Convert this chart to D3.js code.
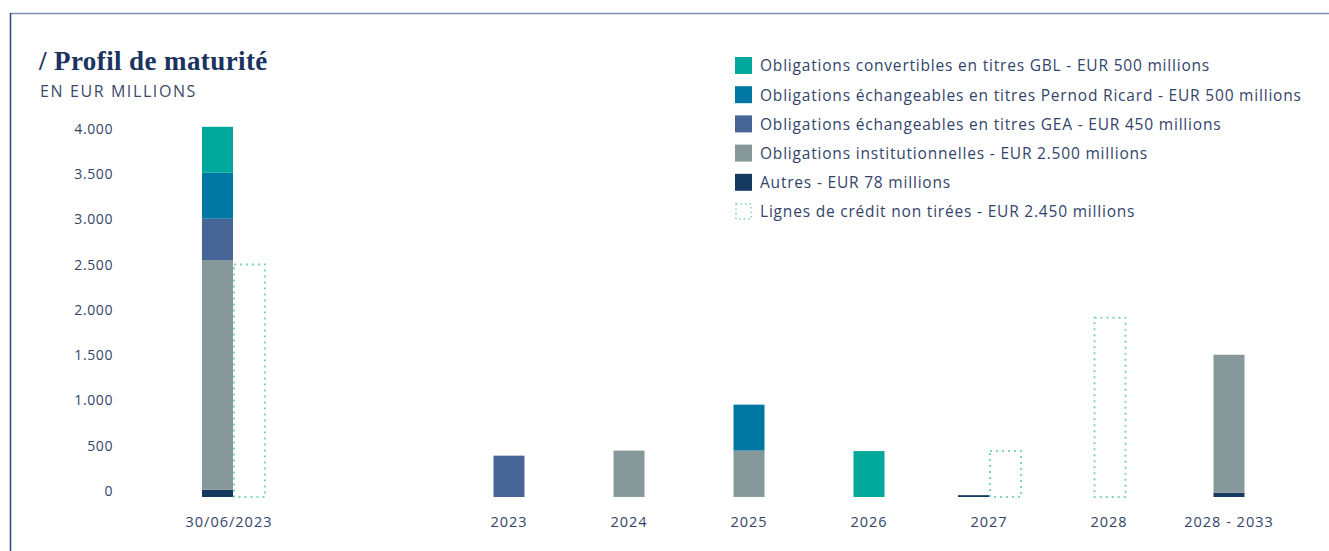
<!DOCTYPE html>
<html>
<head>
<meta charset="utf-8">
<script src="https://cdnjs.cloudflare.com/ajax/libs/d3/7.8.5/d3.min.js"></script>
<style>
  body { margin: 0; background: #fff; }
  svg { display: block; }
  text { font-family: "Open Sans", sans-serif; fill: #33446a; }
</style>
</head>
<body>
<svg id="chart"></svg>
<script>
// categories and series (EUR millions)
const categories = ["30/06/2023", "2023", "2024", "2025", "2026", "2027", "2028", "2028 - 2033"];
const autres      = [78,   0,   5,   5,   0,   20, 0,    48];
const instit      = [2500, 0,   500, 500, 0,   0,  0,    1500];
const gea         = [450,  450, 0,   0,   0,   0,  0,    0];
const pernod      = [500,  0,   0,   500, 0,   0,  0,    0];
const gbl         = [500,  0,   0,   0,   500, 0,  0,    0];
const credit      = [2530, 0,   0,   0,   0,   500, 1950, 0];

const yTicks = [0, 500, 1000, 1500, 2000, 2500, 3000, 3500, 4000];

const seriesNames = ["autres", "instit", "gea", "pernod", "gbl"];
const seriesValues = { autres, instit, gea, pernod, gbl };
const colors = {
  gbl: "#00a99c",
  pernod: "#0077a3",
  gea: "#476697",
  instit: "#869899",
  autres: "#163a5f",
  credit: "#7fd4bb"
};
const legendItems = [
  { key: "gbl", label: "Obligations convertibles en titres GBL - EUR 500 millions" },
  { key: "pernod", label: "Obligations échangeables en titres Pernod Ricard - EUR 500 millions" },
  { key: "gea", label: "Obligations échangeables en titres GEA - EUR 450 millions" },
  { key: "instit", label: "Obligations institutionnelles - EUR 2.500 millions" },
  { key: "autres", label: "Autres - EUR 78 millions" },
  { key: "credit", label: "Lignes de crédit non tirées - EUR 2.450 millions" }
];

const width = 1329, height = 551;
const svg = d3.select("#chart").attr("width", width).attr("height", height);

// frame
svg.append("line").attr("x1", 10).attr("x2", width).attr("y1", 13.5).attr("y2", 13.5)
  .attr("stroke", "#7d8daa").attr("stroke-width", 1.5);
svg.append("line").attr("x1", 10.5).attr("x2", 10.5).attr("y1", 13).attr("y2", height)
  .attr("stroke", "#2c4a78").attr("stroke-width", 1.5);

// titles
svg.append("text").attr("x", 39).attr("y", 70)
  .style("font-family", "'Liberation Serif', serif").style("font-weight", "bold")
  .style("font-size", "27px").style("fill", "#1b3360").style("letter-spacing", "0.4px")
  .text("/ Profil de maturité");
svg.append("text").attr("x", 40).attr("y", 97)
  .style("font-size", "16px").style("fill", "#3b4a6c").style("letter-spacing", "1.6px")
  .text("EN EUR MILLIONS");

// scales
const firstGap = 2.3;
const slot = i => (i === 0 ? 0 : i + firstGap - 1);
const x = d3.scaleLinear().domain([0, slot(categories.length - 1)]).range([233, 1229]);
const y = d3.scaleLinear().domain([0, 4000]).range([497, 129.4]);
const yLabel = d3.scaleLinear().domain([0, 4000]).range([491, 129]);
const bw = 31;

const fmt = d3.formatLocale({ decimal: ",", thousands: ".", grouping: [3], currency: ["", "€"] }).format(",d");

// y labels
svg.append("g").selectAll("text").data(yTicks).join("text")
  .attr("x", 113).attr("y", d => yLabel(d)).attr("dy", "0.35em")
  .attr("text-anchor", "end").style("font-size", "14px").style("letter-spacing", "0.6px")
  .text(d => fmt(d));

// stacked data
const rows = categories.map((c, i) => {
  const r = { cat: c, i };
  seriesNames.forEach(k => r[k] = seriesValues[k][i]);
  r.credit = credit[i];
  r.total = d3.sum(seriesNames, k => r[k]);
  return r;
});
const stack = d3.stack().keys(seriesNames)(rows);

function barX(r) {
  return r.credit > 0 ? x(slot(r.i)) - bw : x(slot(r.i)) - bw / 2;
}
function creditX(r) {
  return r.total > 0 ? x(slot(r.i)) : x(slot(r.i)) - bw / 2;
}

svg.append("g").selectAll("g").data(stack).join("g")
  .attr("fill", s => colors[s.key])
  .selectAll("rect").data(s => s.filter(d => d[1] - d[0] > 0)).join("rect")
  .attr("x", d => barX(d.data))
  .attr("width", bw)
  .attr("y", d => y(d[1]))
  .attr("height", d => y(d[0]) - y(d[1]));

// undrawn credit lines (dotted)
svg.append("g").selectAll("rect").data(rows.filter(r => r.credit > 0)).join("rect")
  .attr("x", r => creditX(r) + 1)
  .attr("width", bw)
  .attr("y", r => y(r.credit))
  .attr("height", r => y(0) - y(r.credit))
  .attr("fill", "none")
  .attr("stroke", colors.credit)
  .attr("stroke-width", 2)
  .attr("stroke-dasharray", "2 4");

// x labels
svg.append("g").selectAll("text").data(rows).join("text")
  .attr("x", r => x(slot(r.i)) - (r.i === 0 ? 4 : 0))
  .attr("y", 527)
  .attr("text-anchor", "middle").style("font-size", "14.5px").style("letter-spacing", "1px")
  .text(r => r.cat);

// legend
const legend = svg.append("g").attr("transform", "translate(735,57)");
const li = legend.selectAll("g").data(legendItems).join("g")
  .attr("transform", (d, i) => `translate(0,${i * 29.2})`);
li.append("rect")
  .attr("x", d => d.key === "credit" ? 1 : 0)
  .attr("y", d => d.key === "credit" ? 1 : 0)
  .attr("width", d => d.key === "credit" ? 15 : 17)
  .attr("height", d => d.key === "credit" ? 15 : 17)
  .attr("fill", d => d.key === "credit" ? "none" : colors[d.key])
  .attr("stroke", d => d.key === "credit" ? colors.credit : "none")
  .attr("stroke-width", 1.5)
  .attr("stroke-dasharray", "1.5 3");
li.append("text").attr("x", 25).attr("y", 9).attr("dy", "0.35em")
  .style("font-size", "15.5px").style("letter-spacing", "0.8px")
  .text(d => d.label);
</script>
</body>
</html>
